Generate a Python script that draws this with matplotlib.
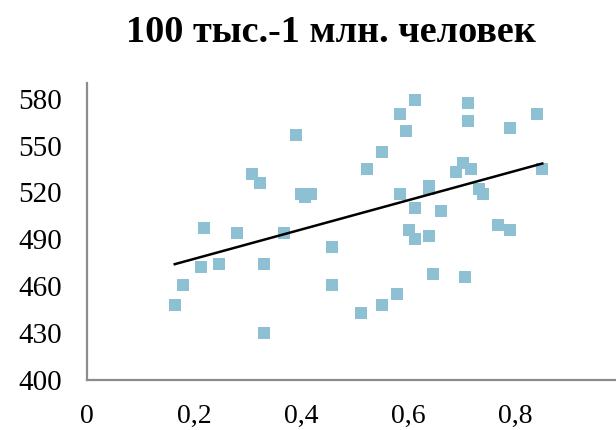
import numpy as np
import matplotlib
matplotlib.use("Agg")
import matplotlib.pyplot as plt

title = "100 тыс.-1 млн. человек"

x_vals = [0.391, 0.308, 0.324, 0.400, 0.419, 0.407, 0.219, 0.280, 0.369, 0.458,
          0.213, 0.247, 0.330, 0.180, 0.458, 0.164, 0.330,
          0.613, 0.585, 0.596, 0.713, 0.713, 0.791, 0.841, 0.552, 0.524, 0.702,
          0.690, 0.718, 0.851, 0.640, 0.640, 0.585, 0.733, 0.740, 0.613, 0.662,
          0.602, 0.613, 0.640, 0.768, 0.791, 0.646, 0.707, 0.580, 0.552, 0.513]
y_vals = [557, 532, 526, 519, 519, 517, 497, 494, 494, 485,
          472, 474, 474, 461, 461, 448, 430,
          579, 570, 559, 577, 566, 561, 570, 546, 535, 539,
          533, 535, 535, 524, 522, 519, 522, 519, 510, 508,
          496, 490, 492, 499, 496, 468, 466, 455, 448, 443]

x_ticks = [0, 0.2, 0.4, 0.6, 0.8]
x_ticklabels = ["0", "0,2", "0,4", "0,6", "0,8"]
y_ticks = [400, 430, 460, 490, 520, 550, 580]

fig = plt.figure(figsize=(6.16, 4.30), dpi=100)
ax = fig.add_axes([87/616, 50/430, 535/616, 297/430])

ax.scatter(x_vals, y_vals, marker='s', s=78, color='#8DC0D2', linewidths=0, zorder=2)

coef = np.polyfit(x_vals, y_vals, 1)
xs = np.array([min(x_vals), max(x_vals)])
ax.plot(xs, np.polyval(coef, xs), color='black', lw=1.8, zorder=3)

ax.set_xlim(0, 1)
ax.set_ylim(400, 590)
ax.set_xticks(x_ticks)
ax.set_xticklabels(x_ticklabels)
ax.set_yticks(y_ticks)
for s in ['top', 'right']:
    ax.spines[s].set_visible(False)
for s in ['left', 'bottom']:
    ax.spines[s].set_color('#8c8c8c')
    ax.spines[s].set_linewidth(1.6)
ax.tick_params(axis='y', length=0, pad=18, labelsize=21)
ax.tick_params(axis='x', length=0, pad=17.5, labelsize=20)
for lab in ax.get_xticklabels() + ax.get_yticklabels():
    lab.set_fontfamily('Liberation Serif')

fig.text(331/616, 1 - 32/430, title, ha='center', va='center',
         fontsize=27.5, fontweight='bold', family='Liberation Serif')

fig.savefig('out.png', dpi=100)
